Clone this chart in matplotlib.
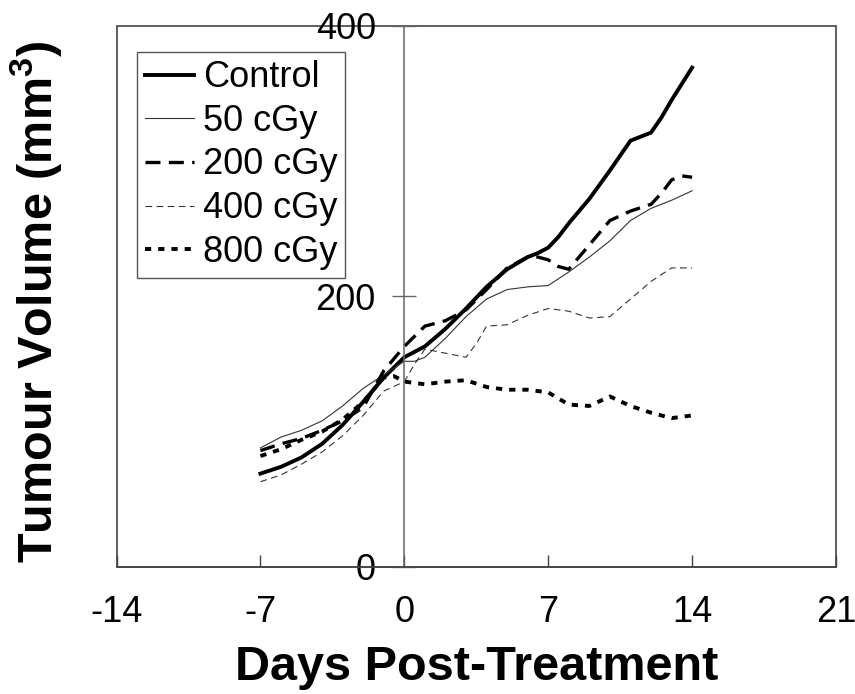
import matplotlib
matplotlib.use("Agg")
import matplotlib.pyplot as plt

plt.rcParams['font.family'] = ['Liberation Sans', 'DejaVu Sans']
plt.rcParams['axes.unicode_minus'] = False
plt.rcParams['mathtext.fontset'] = 'custom'
plt.rcParams['mathtext.rm'] = 'Liberation Sans:bold'
plt.rcParams['mathtext.it'] = 'Liberation Sans:bold'
plt.rcParams['mathtext.bf'] = 'Liberation Sans:bold'

# data (days post-treatment, tumour volume mm3)
control_days = [-7, -6, -5, -4, -3, -2, -1, 0, 1, 2, 3, 4, 5, 6, 6.5, 7, 7.5, 8, 9, 10, 11, 11.5, 12, 12.5, 13, 14]
control = [69, 74, 81, 91, 105, 122, 140, 155, 163, 176, 191, 207, 220, 229, 232, 236, 244, 254, 272, 293, 315, 318, 321, 332, 345, 369]

cgy50_days = [-7, -6, -5, -4, -3, -2, -1, 0, 0.5, 1, 2, 3, 4, 5, 6, 7, 8, 9, 10, 11, 12, 13, 14]
cgy50 = [88, 96, 101, 108, 119, 132, 142, 152, 152, 155, 169, 185, 198, 205, 207, 208, 218, 229, 241, 256, 265, 271, 278]

cgy200_days = [-7, -6, -5, -4, -3, -2, -1, 0, 1, 2, 3, 4, 5, 6, 6.5, 7, 7.5, 8, 9, 10, 11, 12, 12.5, 13, 13.5, 14]
cgy200 = [86, 91, 95, 101, 108, 118, 145, 163, 178, 182, 190, 205, 221, 229, 229, 227, 222, 220, 238, 256, 263, 268, 276, 286, 289, 288]

cgy400_days = [-7, -6, -5, -4, -3, -2, -1, 0, 0.5, 1, 2, 3, 3.5, 4, 5, 6, 7, 8, 9, 10, 11, 12, 13, 14]
cgy400 = [63, 68, 76, 85, 97, 112, 130, 137, 150, 161, 158, 155, 165, 178, 179, 186, 191, 189, 184, 185, 198, 211, 221, 221]

cgy800_days = [-7, -6, -5, -4, -3, -2, -1, -0.5, 0, 1, 2, 3, 4, 5, 6, 7, 8, 9, 10, 11, 12, 13, 14]
cgy800 = [82, 87, 94, 100, 109, 122, 140, 141, 137, 135, 137, 138, 133, 131, 131, 129, 120, 119, 126, 119, 114, 110, 112]

x_ticks = [-14, -7, 0, 7, 14, 21]
y_ticks = [0, 200, 400]

fig = plt.figure(figsize=(8.55, 6.94), dpi=100)
ax = fig.add_axes([0.1363, 0.183, 0.8415, 0.780])

ax.plot(control_days, control, color='black', lw=2.8, solid_joinstyle='round', label='Control')
ax.plot(cgy50_days, cgy50, color='#333333', lw=0.8, label='50 cGy')
ax.plot(cgy200_days, cgy200, color='black', lw=2.4, dashes=(4.5, 2.5), label='200 cGy')
ax.plot(cgy400_days, cgy400, color='#333333', lw=0.8, dashes=(6, 4), label='400 cGy')
ax.plot(cgy800_days, cgy800, color='black', lw=2.8, dashes=(1.6, 1.8), label='800 cGy')

ax.set_xlim(-14, 21)
ax.set_ylim(0, 400)

# box around the plot, y axis drawn through day 0
ax.patch.set_edgecolor('#444444')
ax.patch.set_linewidth(1.2)
for s in ['top', 'right']:
    ax.spines[s].set_visible(False)
ax.spines['left'].set_position(('data', 0))
ax.spines['left'].set_color('#666666')
ax.spines['left'].set_linewidth(1.1)
ax.spines['bottom'].set_color('#444444')
ax.spines['bottom'].set_linewidth(1.2)

ax.set_xticks(x_ticks)
ax.set_yticks(y_ticks)
ax.tick_params(axis='x', direction='in', length=8.5, width=1, color='#444444', pad=20, labelsize=26)
ax.tick_params(axis='y', direction='inout', length=17, width=1, color='#666666', pad=12, labelsize=26)

ax.set_xlabel('Days Post-Treatment', fontsize=35, fontweight='bold', labelpad=11)
ax.set_ylabel('Tumour Volume (mm$^3$)', fontsize=35, fontweight='bold')
ax.yaxis.set_label_coords(-0.073, 0.49)

leg = ax.legend(loc='upper left', bbox_to_anchor=(0.0285, 0.951), borderaxespad=0,
                fontsize=26, handlelength=1.35, handletextpad=0.25, labelspacing=0.24,
                borderpad=0.22, fancybox=False, framealpha=1)
leg.get_frame().set_edgecolor('#555555')
leg.get_frame().set_linewidth(1.0)

fig.savefig('out.png', dpi=100)
